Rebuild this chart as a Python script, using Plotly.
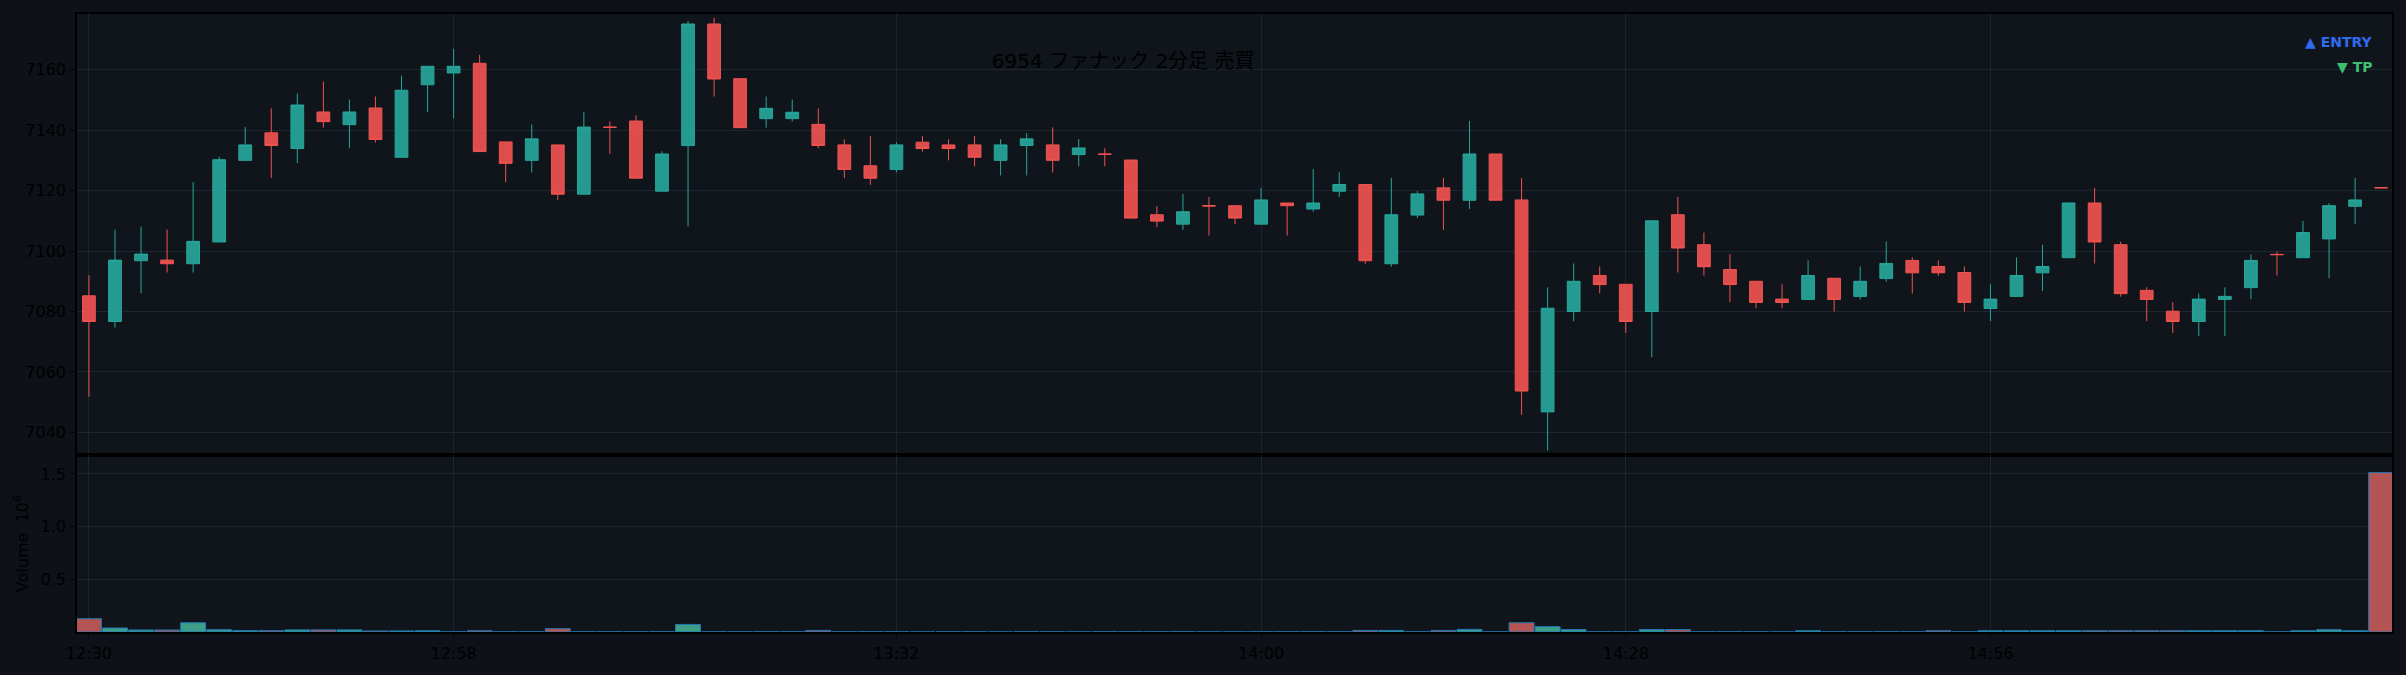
import pandas as pd
import plotly.graph_objects as go
from plotly.subplots import make_subplots

start_time = "2025-01-06 12:30"
n_bars = 89
times = pd.date_range(start_time, periods=n_bars, freq="2min")

open_ = [7085.2, 7076.7, 7096.8, 7097.0, 7095.8, 7103.0, 7130.0, 7139.1, 7133.9, 7146.0,
         7141.8, 7147.3, 7131.0, 7155.0, 7158.9, 7162.1, 7136.1, 7130.0, 7135.1, 7118.8,
         7141.0, 7143.0, 7119.8, 7134.9, 7175.1, 7157.0, 7143.8, 7143.8, 7141.9, 7135.1,
         7128.2, 7127.0, 7136.0, 7135.1, 7135.1, 7130.0, 7134.9, 7135.1, 7131.9, 7132.1,
         7130.1, 7112.0, 7108.9, 7115.0, 7115.0, 7108.9, 7115.9, 7113.9, 7119.8, 7122.0,
         7095.8, 7111.9, 7120.9, 7116.8, 7132.1, 7116.9, 7046.8, 7080.0, 7091.9, 7089.0,
         7080.0, 7112.0, 7102.1, 7093.9, 7090.0, 7084.1, 7084.0, 7091.0, 7085.0, 7090.9,
         7096.9, 7094.9, 7092.9, 7081.0, 7085.0, 7092.8, 7097.8, 7115.9, 7102.1, 7087.0,
         7080.1, 7076.7, 7084.0, 7087.9, 7098.9, 7097.8, 7104.0, 7114.8, 7121.0]
high = [7092.0, 7107.1, 7108.1, 7107.1, 7122.8, 7131.2, 7141.0, 7147.2, 7152.1, 7156.1,
        7150.1, 7151.1, 7158.0, 7161.1, 7166.9, 7164.9, 7136.1, 7141.9, 7135.1, 7146.0,
        7142.9, 7144.9, 7133.0, 7176.1, 7177.1, 7157.0, 7151.1, 7150.1, 7147.2, 7137.0,
        7138.0, 7136.0, 7138.0, 7137.0, 7138.0, 7137.0, 7139.0, 7140.9, 7137.0, 7134.0,
        7130.1, 7114.8, 7118.9, 7117.9, 7115.0, 7120.9, 7115.9, 7127.1, 7126.1, 7122.0,
        7124.2, 7119.8, 7124.2, 7143.0, 7132.1, 7124.1, 7088.0, 7095.9, 7094.9, 7089.0,
        7110.0, 7117.9, 7106.1, 7099.0, 7090.0, 7089.0, 7096.9, 7091.0, 7094.9, 7103.2,
        7097.9, 7096.9, 7094.9, 7089.0, 7097.9, 7102.1, 7115.9, 7120.9, 7103.1, 7088.0,
        7083.0, 7085.9, 7088.0, 7098.9, 7099.8, 7110.0, 7115.9, 7124.2, 7121.0]
low = [7051.8, 7074.7, 7086.0, 7092.9, 7092.9, 7103.0, 7130.0, 7124.2, 7129.1, 7140.8,
       7134.0, 7135.9, 7131.0, 7145.9, 7143.9, 7132.9, 7122.8, 7126.0, 7116.9, 7118.8,
       7132.1, 7124.1, 7119.8, 7108.1, 7151.1, 7140.8, 7140.8, 7142.9, 7134.0, 7124.1,
       7121.9, 7126.0, 7132.9, 7130.0, 7128.0, 7125.0, 7125.0, 7126.0, 7128.0, 7128.0,
       7110.9, 7107.9, 7107.0, 7105.1, 7108.9, 7108.9, 7105.1, 7113.0, 7117.9, 7095.8,
       7094.8, 7110.9, 7107.0, 7113.9, 7116.8, 7045.8, 7034.0, 7076.8, 7086.0, 7072.9,
       7064.9, 7092.9, 7091.9, 7083.1, 7081.1, 7081.1, 7084.0, 7080.0, 7084.0, 7089.9,
       7085.9, 7091.8, 7080.0, 7076.8, 7085.0, 7086.8, 7097.8, 7095.9, 7084.9, 7076.8,
       7072.9, 7071.9, 7071.9, 7084.0, 7091.9, 7097.8, 7091.0, 7109.0, 7120.9]
close = [7076.7, 7097.0, 7099.0, 7095.8, 7103.2, 7130.2, 7135.1, 7134.9, 7148.3, 7142.8,
         7146.0, 7136.9, 7153.2, 7161.1, 7161.1, 7132.9, 7129.0, 7137.1, 7118.8, 7141.0,
         7140.9, 7124.1, 7132.1, 7175.1, 7156.9, 7140.8, 7147.2, 7145.9, 7134.9, 7127.0,
         7124.1, 7135.1, 7133.9, 7133.9, 7131.0, 7135.1, 7137.1, 7130.0, 7134.1, 7132.0,
         7110.9, 7109.9, 7113.0, 7114.9, 7110.9, 7116.9, 7115.0, 7115.9, 7122.0, 7096.8,
         7112.0, 7118.9, 7116.8, 7132.1, 7116.8, 7053.7, 7081.1, 7090.0, 7088.9, 7076.7,
         7110.0, 7101.0, 7094.8, 7088.9, 7083.0, 7083.0, 7091.9, 7084.0, 7090.0, 7095.9,
         7092.8, 7092.8, 7083.0, 7084.1, 7091.9, 7094.9, 7115.9, 7103.0, 7085.9, 7084.0,
         7076.7, 7084.1, 7085.0, 7096.9, 7098.8, 7106.1, 7115.0, 7116.9, 7120.9]
volume = [126000, 38000, 19000, 19000, 88000, 22000, 13000, 13000, 20000, 20000,
          20000, 10000, 10000, 12000, 1500, 12000, 1500, 1500, 32000, 1500,
          1500, 1500, 1500, 72000, 1500, 1500, 1500, 1500, 15000, 1500,
          1500, 1500, 0, 1500, 1500, 0, 1500, 1500, 0, 1500,
          1500, 1500, 1500, 0, 0, 1500, 1500, 1500, 1500, 15000,
          15000, 1500, 15000, 25000, 1500, 88000, 51000, 23000, 1500, 1500,
          23000, 23000, 1500, 1500, 1500, 0, 12000, 1500, 1500, 1500,
          1500, 12000, 1500, 12000, 12000, 12000, 12000, 12000, 12000, 12000,
          12000, 12000, 12000, 12000, 1500, 12000, 22000, 12000, 1513000]

x_tick_labels = ["12:30", "12:58", "13:32", "14:00", "14:28", "14:56"]
price_ticks = [7040, 7060, 7080, 7100, 7120, 7140, 7160]
volume_ticks = [500000, 1000000, 1500000]
volume_tick_text = ["0.5", "1.0", "1.5"]

title_text = "6954 ファナック 2分足 売買"

UP = "#26a69a"
DOWN = "#ef5350"
BG = "#0e1117"
PLOT_BG = "#10141b"
GRID = "#1b2631"
TXT = "#000000"

day = str(times[0].date())
tickvals = [pd.Timestamp(f"{day} {t}") for t in x_tick_labels]

fig = make_subplots(rows=2, cols=1, shared_xaxes=True, vertical_spacing=0,
                    row_heights=[0.7138, 0.2862])

fig.add_trace(go.Candlestick(
    x=times, open=open_, high=high, low=low, close=close,
    increasing=dict(line=dict(color=UP, width=1), fillcolor="rgba(38,166,154,0.92)"),
    decreasing=dict(line=dict(color=DOWN, width=1), fillcolor="rgba(239,83,80,0.92)"),
    whiskerwidth=0, showlegend=False, name="price"), row=1, col=1)

vol_colors = ["#3d9e8a" if c >= o else "#b55454" for o, c in zip(open_, close)]
fig.add_trace(go.Bar(
    x=times, y=volume, marker=dict(color=vol_colors, line=dict(color="#1f77b4", width=1)),
    width=115200, showlegend=False, name="Volume"), row=2, col=1)

x0 = times[0] - pd.Timedelta(seconds=55)
x1 = times[-1] + pd.Timedelta(seconds=50)

axis_common = dict(showline=True, linecolor="#000000", linewidth=1.5, mirror=True,
                   gridcolor=GRID, gridwidth=1, zeroline=False,
                   ticks="outside", ticklen=6, tickcolor="#05070a",
                   tickfont=dict(color=TXT, size=16, family="DejaVu Sans"))

fig.update_xaxes(**axis_common, type="date", range=[x0, x1], tickvals=tickvals,
                 tickformat="%H:%M", rangeslider_visible=False)
fig.update_xaxes(showticklabels=False, row=1, col=1)
fig.update_yaxes(**axis_common)
fig.update_yaxes(range=[7032.5, 7178.4], tickvals=price_ticks, row=1, col=1)
fig.update_yaxes(range=[0, 1679000], tickvals=volume_ticks, ticktext=volume_tick_text,
                 title=dict(text="Volume  10<sup>6</sup>", font=dict(color=TXT, size=16,
                            family="DejaVu Sans"), standoff=8), row=2, col=1)

fig.update_layout(
    width=2406, height=675,
    margin=dict(l=77, r=12, t=12, b=41),
    paper_bgcolor=BG, plot_bgcolor=PLOT_BG,
    font=dict(family="DejaVu Sans", color=TXT),
    title=dict(text=title_text, x=0.4668, xanchor="center", y=0.9096, yanchor="middle",
               font=dict(size=20, color=TXT, family="DejaVu Sans, Noto Sans CJK JP")),
    showlegend=False,
    annotations=[
        dict(text="<b>▲ ENTRY</b>", xref="paper", yref="paper", x=0.9922, y=0.954,
             xanchor="right", yanchor="middle", showarrow=False,
             font=dict(size=14, color="#2f6bf0", family="DejaVu Sans")),
        dict(text="<b>▼ TP</b>", xref="paper", yref="paper", x=0.9922, y=0.915,
             xanchor="right", yanchor="middle", showarrow=False,
             font=dict(size=14, color="#3fbf73", family="DejaVu Sans")),
    ],
)

fig.write_html("out.html")
